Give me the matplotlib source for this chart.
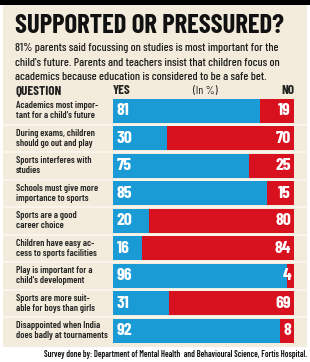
import matplotlib
matplotlib.use('Agg')
import matplotlib.pyplot as plt
from matplotlib.patches import Rectangle
import numpy as np

questions = [
    "Academics most impor-\ntant for a child's future",
    "During exams, children\nshould go out and play",
    "Sports interferes with\nstudies",
    "Schools must give more\nimportance to sports",
    "Sports are a good\ncareer choice",
    "Children have easy ac-\ncess to sports facilities",
    "Play is important for a\nchild's development",
    "Sports are more suit-\nable for boys than girls",
    "Disappointed when India\ndoes badly at tournaments",
]
yes_vals = [81, 30, 75, 85, 20, 16, 96, 31, 92]
no_vals = [19, 70, 25, 15, 80, 84, 4, 69, 8]

title = "SUPPORTED OR PRESSURED?"
subtitle = ["81% parents said focussing on studies is most important for the",
            "child's future. Parents and teachers insist that children focus on",
            "academics because education is considered to be a safe bet."]
footer = "Survey done by: Department of Mental Health  and Behavioural Science, Fortis Hospital."

BLUE = '#1b9bd5'
RED = '#d8111f'
BEIGE = '#f3ecdc'
FONT = ['Barlow Condensed', 'Roboto Condensed', 'DejaVu Sans']

W, H = 310, 362
fig = plt.figure(figsize=(W / 100, H / 100), dpi=100, facecolor='white')
renderer = fig.canvas.get_renderer()


def fit(t, width):
    # scale font so the text spans the given pixel width
    w = t.get_window_extent(renderer).width
    t.set_fontsize(t.get_fontsize() * width / w)
    return t.get_fontsize()


# background axes in pixel coordinates
bg = fig.add_axes([0, 0, 1, 1])
bg.set_xlim(0, W)
bg.set_ylim(H, 0)
bg.axis('off')
bg.add_patch(Rectangle((0, 0), W, 5, color='black', lw=0))
bg.add_patch(Rectangle((3, 5), 304, 342, color=BEIGE, lw=0))

t = bg.text(15, 33, title, fontsize=18, fontweight='bold', family=FONT, color='#111111', va='baseline')
fit(t, 270)
subs = [bg.text(15, 51 + 14.5 * i, line, fontsize=9, fontweight='medium', family=FONT,
                color='#1e1e1e', va='baseline')
        for i, line in enumerate(subtitle)]
fs = fit(subs[1], 264)
for s in subs:
    s.set_fontsize(fs)

t = bg.text(16, 94, "QUESTION", fontsize=8, fontweight='bold', family=FONT, color='#222222', va='baseline')
hs = fit(t, 46)
bg.text(113, 94, "YES", fontsize=hs, fontweight='bold', family=FONT, color='#222222', va='baseline')
bg.text(205, 94, "(In %)", fontsize=hs * 0.9, family=FONT, color='#222222', va='baseline', ha='center')
bg.text(294, 94, "NO", fontsize=hs, fontweight='bold', family=FONT, color='#222222', va='baseline', ha='right')

top, pitch = 97, 27.5
n = len(questions)
labels = []
for i, q in enumerate(questions):
    yc = top + pitch * (i + 0.5)
    labels.append(bg.text(16, yc, q, fontsize=7, fontweight='semibold', family=FONT, color='#262626',
                          va='center', linespacing=1.1))
    if i < n - 1:
        y = top + pitch * (i + 1)
        bg.plot([3, 307], [y, y], color='#fcf8f0', lw=1.2)
ls = fit(labels[-1], 92)
for lb in labels:
    lb.set_fontsize(ls)

t = bg.text(307, 357, footer, fontsize=6.3, fontweight='semibold', family=FONT, color='#111111',
            ha='right', va='baseline')
fit(t, 264)

# bar axes
x0, x1 = 113, 294
bottom = top + pitch * n
ax = fig.add_axes([x0 / W, 1 - bottom / H, (x1 - x0) / W, pitch * n / H])
ypos = np.arange(n)
ax.barh(ypos, yes_vals, height=0.87, color=BLUE, lw=0)
ax.barh(ypos, no_vals, left=yes_vals, height=0.87, color=RED, lw=0)
nums = []
for i in range(n):
    nums.append(ax.text(2.2, i, str(yes_vals[i]), color='white', fontsize=9, fontweight='bold',
                        family=FONT, va='center', ha='left'))
    nums.append(ax.text(98.3, i, str(no_vals[i]), color='white', fontsize=9, fontweight='bold',
                        family=FONT, va='center', ha='right'))
ns = fit(nums[0], 13)
for t in nums:
    t.set_fontsize(ns)
ax.set_xlim(0, 100)
ax.set_ylim(n - 0.5, -0.5)
ax.axis('off')
ax.patch.set_alpha(0)

fig.savefig('out.png', dpi=100, facecolor='white')
